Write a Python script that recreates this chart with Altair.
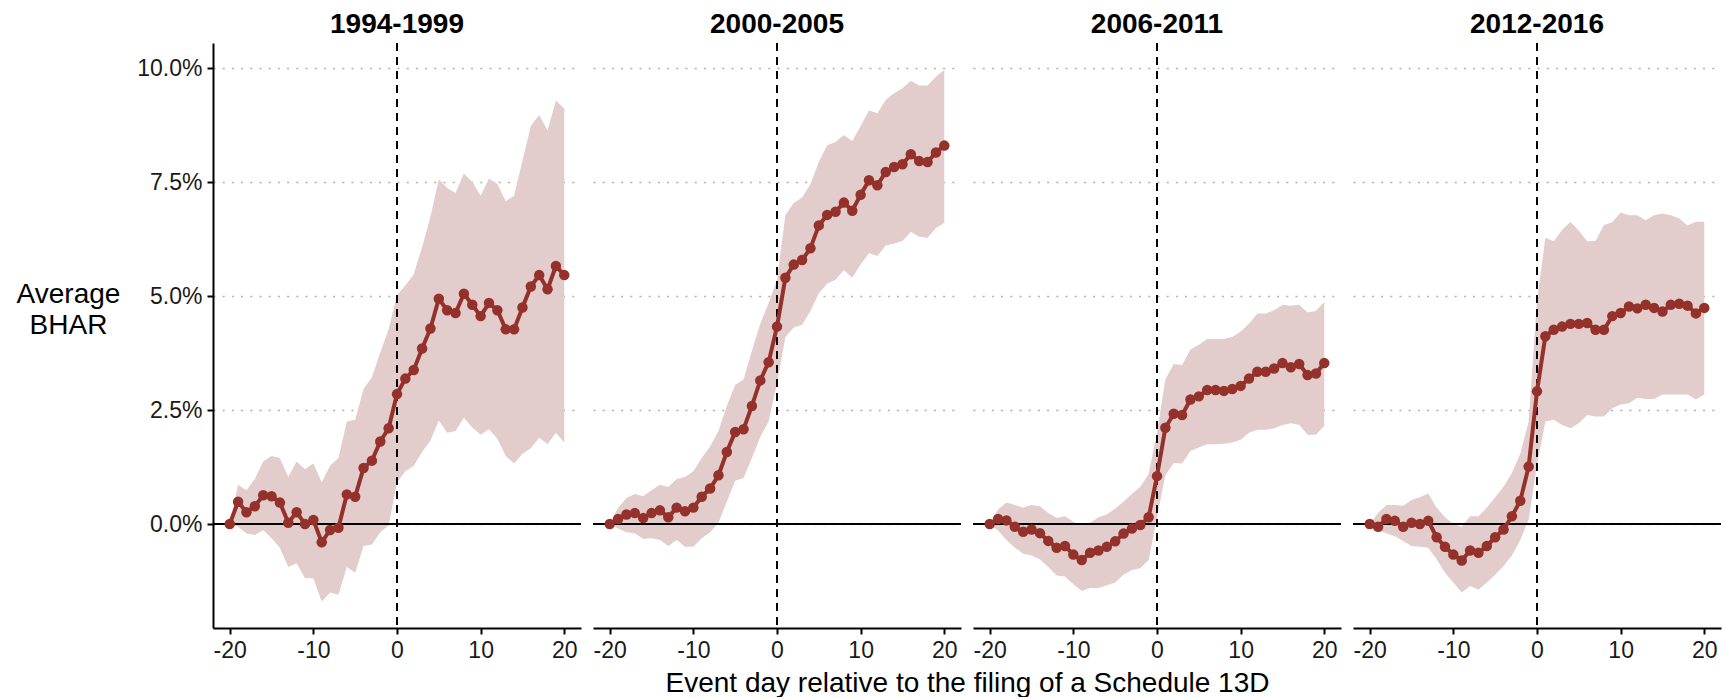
import altair as alt
import pandas as pd

days = list(range(-20, 21))
periods = ["1994-1999", "2000-2005", "2006-2011", "2012-2016"]

mean_1 = [0.00, 0.49, 0.26, 0.39, 0.63, 0.61, 0.47, 0.03, 0.26, 0.00, 0.09, -0.40, -0.13, -0.08, 0.65, 0.60,
          1.23, 1.39, 1.81, 2.10, 2.85, 3.19, 3.38, 3.85, 4.29, 4.94, 4.69, 4.63, 5.05, 4.81, 4.56, 4.85,
          4.69, 4.27, 4.27, 4.75, 5.21, 5.46, 5.15, 5.66, 5.46]
high_1 = [0.00, 0.86, 0.74, 0.99, 1.37, 1.49, 1.45, 1.03, 1.37, 1.20, 1.33, 0.91, 1.28, 1.45, 2.25, 2.29,
          2.96, 3.22, 3.76, 4.27, 5.02, 5.23, 5.48, 6.07, 6.74, 7.56, 7.37, 7.26, 7.69, 7.50, 7.20, 7.58,
          7.46, 7.08, 7.20, 7.96, 8.73, 8.97, 8.63, 9.29, 9.11]
low_1 = [0.00, -0.06, -0.21, -0.24, -0.13, -0.31, -0.52, -0.94, -0.86, -1.19, -1.19, -1.70, -1.50, -1.55, -0.94, -1.07,
         -0.48, -0.45, -0.18, -0.03, 0.91, 1.16, 1.28, 1.58, 1.83, 2.27, 2.00, 2.04, 2.33, 2.12, 1.96, 2.08,
         1.87, 1.49, 1.33, 1.54, 1.66, 1.89, 1.75, 2.00, 1.79]

mean_2 = [0.00, 0.11, 0.21, 0.24, 0.13, 0.24, 0.30, 0.15, 0.36, 0.28, 0.36, 0.60, 0.78, 1.07, 1.58, 2.02,
          2.08, 2.59, 3.15, 3.55, 4.33, 5.40, 5.69, 5.79, 6.05, 6.55, 6.78, 6.85, 7.05, 6.87, 7.22, 7.54,
          7.43, 7.72, 7.83, 7.89, 8.11, 7.96, 7.94, 8.15, 8.30]
high_2 = [0.00, 0.36, 0.57, 0.66, 0.61, 0.74, 0.86, 0.81, 0.99, 1.03, 1.16, 1.45, 1.70, 2.04, 2.59, 3.05,
          3.17, 3.80, 4.39, 4.85, 5.36, 6.78, 7.04, 7.16, 7.46, 7.94, 8.31, 8.38, 8.53, 8.40, 8.73, 9.07,
          9.01, 9.30, 9.45, 9.56, 9.72, 9.62, 9.62, 9.81, 9.96]
low_2 = [0.00, -0.10, -0.18, -0.20, -0.33, -0.31, -0.35, -0.48, -0.35, -0.50, -0.50, -0.31, -0.18, 0.03, 0.49, 0.95,
         1.01, 1.45, 1.91, 2.25, 3.09, 4.10, 4.31, 4.37, 4.67, 5.06, 5.27, 5.36, 5.57, 5.40, 5.69, 5.94,
         5.88, 6.11, 6.15, 6.21, 6.41, 6.30, 6.28, 6.49, 6.60]

mean_3 = [0.00, 0.11, 0.08, -0.06, -0.17, -0.12, -0.20, -0.37, -0.52, -0.48, -0.67, -0.79, -0.63, -0.58, -0.50, -0.38,
          -0.21, -0.10, -0.02, 0.15, 1.05, 2.11, 2.42, 2.39, 2.73, 2.80, 2.94, 2.94, 2.92, 2.96, 3.03, 3.19,
          3.34, 3.34, 3.41, 3.53, 3.44, 3.51, 3.27, 3.30, 3.53]
high_3 = [0.00, 0.32, 0.47, 0.42, 0.36, 0.42, 0.39, 0.24, 0.13, 0.17, 0.05, -0.03, 0.03, 0.15, 0.21, 0.34,
          0.49, 0.66, 0.82, 1.10, 2.00, 3.17, 3.51, 3.49, 3.83, 3.93, 4.06, 4.06, 4.06, 4.10, 4.22, 4.39,
          4.62, 4.62, 4.69, 4.81, 4.79, 4.81, 4.64, 4.67, 4.87]
low_3 = [0.00, -0.14, -0.35, -0.52, -0.65, -0.69, -0.77, -0.94, -1.13, -1.15, -1.32, -1.47, -1.40, -1.40, -1.34, -1.28,
         -1.11, -1.01, -0.97, -0.79, 0.15, 1.07, 1.34, 1.33, 1.60, 1.68, 1.75, 1.75, 1.76, 1.79, 1.85, 2.00,
         2.07, 2.07, 2.10, 2.17, 2.21, 2.18, 1.96, 1.96, 2.15]

mean_4 = [0.00, -0.06, 0.11, 0.07, -0.06, 0.03, 0.00, 0.07, -0.29, -0.50, -0.67, -0.80, -0.58, -0.63, -0.48, -0.29,
          -0.12, 0.17, 0.51, 1.26, 2.91, 4.12, 4.26, 4.33, 4.39, 4.39, 4.41, 4.26, 4.26, 4.56, 4.63, 4.77,
          4.73, 4.81, 4.74, 4.66, 4.81, 4.83, 4.79, 4.62, 4.74]
high_4 = [0.00, 0.24, 0.42, 0.42, 0.40, 0.53, 0.59, 0.67, 0.36, 0.15, 0.00, -0.06, 0.17, 0.17, 0.36, 0.59,
          0.82, 1.12, 1.54, 2.25, 4.90, 6.28, 6.20, 6.45, 6.63, 6.43, 6.20, 6.21, 6.56, 6.62, 6.83, 6.77,
          6.77, 6.66, 6.77, 6.81, 6.77, 6.70, 6.55, 6.63, 6.63]
low_4 = [0.00, -0.14, -0.20, -0.27, -0.37, -0.48, -0.50, -0.52, -0.77, -1.07, -1.28, -1.50, -1.36, -1.44, -1.28, -1.11,
         -0.92, -0.69, -0.35, 0.10, 1.30, 2.25, 2.29, 2.17, 2.10, 2.21, 2.39, 2.36, 2.36, 2.54, 2.62, 2.65,
         2.77, 2.74, 2.74, 2.84, 2.84, 2.84, 2.84, 2.73, 2.84]

series = [(mean_1, low_1, high_1), (mean_2, low_2, high_2), (mean_3, low_3, high_3), (mean_4, low_4, high_4)]

FONT = "Liberation Sans"
LINE_COL = "#94312A"
BAND_COL = "#E3CCCC"
PANEL_W = 368
PANEL_H = 585
SPACING = 12

x_scale = alt.Scale(domain=[-22, 22], nice=False, zero=False)
y_scale = alt.Scale(domain=[-2.28, 10.55], nice=False, zero=False)
x_label_expr = "datum.value < 0 ? '-' + abs(datum.value) : '' + datum.value"


def panel(i):
    m, lo, hi = series[i]
    df = pd.DataFrame({"day": days, "mean": m, "low": lo, "high": hi})
    first = i == 0
    if first:
        y_axis = alt.Axis(values=[0, 2.5, 5, 7.5, 10],
                          labelExpr="format(datum.value, '.1f') + '%'",
                          title=["Average", "BHAR"], titleAngle=0, titleX=-145, titleY=251,
                          titleAlign="center", titleBaseline="middle", titleFontSize=28,
                          titleFontWeight="normal", titleLineHeight=31, titleColor="#000000",
                          domain=True, ticks=True, labels=True)
    else:
        y_axis = alt.Axis(values=[0, 2.5, 5, 7.5, 10], labels=False, ticks=False, domain=False,
                          title=None)
    if i == 1:
        x_axis = alt.Axis(values=[-20, -10, 0, 10, 20], labelExpr=x_label_expr,
                          title="Event day relative to the filing of a Schedule 13D",
                          titleX=(4 * PANEL_W + 3 * SPACING) / 2 - (PANEL_W + SPACING),
                          titleY=63, titleAlign="center", titleBaseline="alphabetic",
                          titleFontSize=28, titleFontWeight="normal", titleColor="#000000")
    else:
        x_axis = alt.Axis(values=[-20, -10, 0, 10, 20], labelExpr=x_label_expr, title=None)

    base = alt.Chart(df)
    band = base.mark_area(color=BAND_COL, opacity=1).encode(
        x=alt.X("day:Q", scale=x_scale, axis=x_axis),
        y=alt.Y("low:Q", scale=y_scale, axis=y_axis),
        y2="high:Q",
    )
    hline = base.mark_rule(color="#000000", strokeWidth=2).encode(y=alt.datum(0))
    vline = base.mark_rule(color="#000000", strokeWidth=2, strokeDash=[8, 6]).encode(x=alt.datum(0))
    line = base.mark_line(color=LINE_COL, strokeWidth=4).encode(x="day:Q", y="mean:Q")
    pts = base.mark_circle(color=LINE_COL, size=110, opacity=1).encode(x="day:Q", y="mean:Q")
    return alt.layer(band, hline, vline, line, pts).properties(
        width=PANEL_W, height=PANEL_H,
        title=alt.TitleParams(periods[i], anchor="middle", frame="group", fontSize=28,
                              fontWeight="bold", font=FONT, color="#000000",
                              baseline="alphabetic", offset=-19),
    )


chart = alt.hconcat(*[panel(i) for i in range(4)], spacing=SPACING, bounds="flush").properties(
    padding={"left": 16, "top": 11, "right": 0, "bottom": 0},
    background="white",
).configure(font=FONT).configure_view(stroke=None).configure_axis(
    labelFont=FONT, titleFont=FONT, labelFontSize=23, labelColor="#1a1a1a",
    domainColor="#000000", domainWidth=2, tickColor="#000000", tickWidth=2, tickSize=6,
    labelPadding=5, grid=False,
).configure_axisY(
    grid=True, gridColor="#b0b0b0", gridWidth=1.6, gridDash=[2, 7.2],
)

chart.save("out.html", embed_options={"renderer": "svg", "actions": False})
